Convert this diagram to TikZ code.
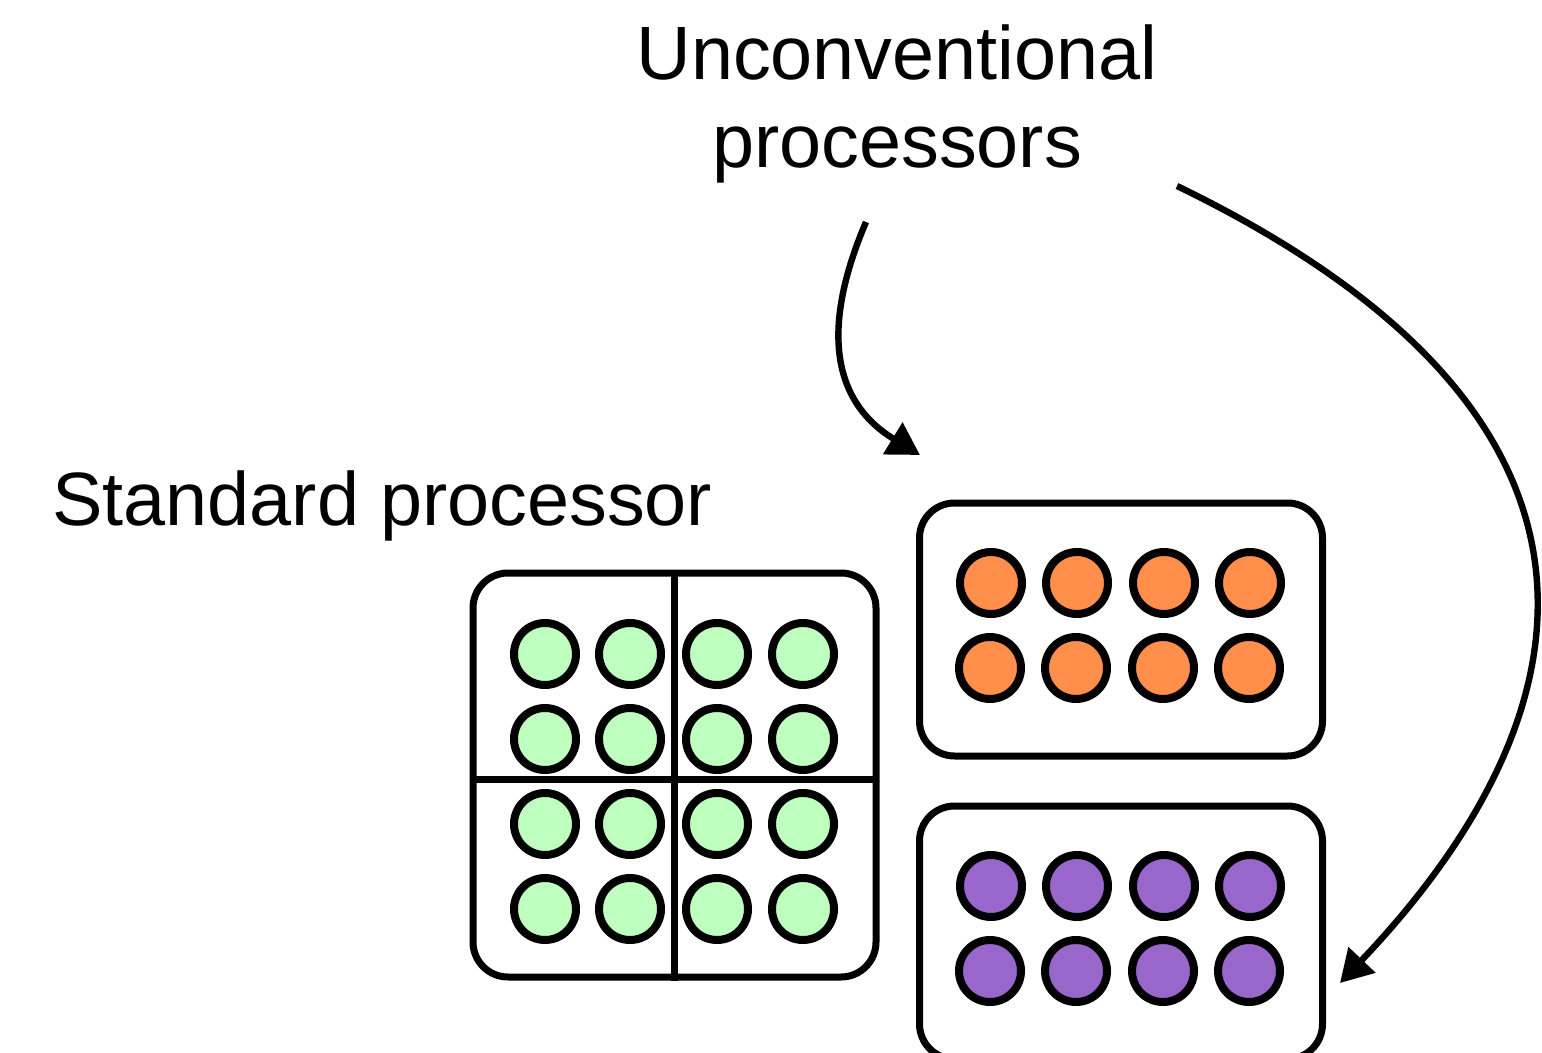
\documentclass[tikz,border=0pt]{standalone}
\usepackage{fontspec}
\setmainfont{Liberation Sans}
\usetikzlibrary{arrows.meta}
\definecolor{coregreen}{HTML}{BEFFC0}
\definecolor{coreorange}{HTML}{FF8F4A}
\definecolor{corepurple}{HTML}{9966CC}
\tikzset{
  chip/.style={draw=black, line width=3.5pt, rounded corners=17.5pt, fill=white},
  divider/.style={line width=3.5pt},
  core/.style={circle, draw=black, line width=4pt, minimum size=31pt, inner sep=0pt},
  label/.style={font=\fontsize{37.8}{44}\selectfont, inner sep=0pt},
  bigarrow/.style={line width=3.2pt, -{Triangle[length=16pt,width=18pt]}},
}
\begin{document}
\begin{tikzpicture}[x=0.5pt, y=-0.5pt]
  \useasboundingbox (0,0) rectangle (1542,1053);
  \clip (0,0) rectangle (1542,1053);

  % labels
  \node[label, anchor=base west] (stdlabel) at (52,525) {Standard processor};
  \node[label, anchor=base, align=center] (unclabel) at (897,168) {Unconventional\\processors};

  % standard processor: four blocks of four cores
  \node[chip, minimum width=201.5pt, minimum height=202pt] (std) at (674.5,775) {};
  \coordinate (hl) at (473,779);
  \coordinate (hr) at (876,779);
  \draw[divider] (std.north) -- (std.south);
  \draw[divider] (hl) -- (hr);
  \foreach \cx [count=\i] in {545,630,717,803}
    \foreach \cy [count=\j] in {654,739,824,909}
      \node[core, fill=coregreen] (g\i\j) at (\cx,\cy) {};

  % unconventional processors
  \node[chip, minimum width=201.5pt, minimum height=126.5pt] (orange) at (1121,629.5) {};
  \node[chip, minimum width=201.5pt, minimum height=126.5pt] (purple) at (1121,932.5) {};
  \foreach \cx [count=\i] in {991,1077,1164,1250} {
    \node[core, fill=coreorange] (o\i1) at (\cx,583) {};
    \node[core, fill=coreorange] (o\i2) at (\cx-1,668) {};
    \node[core, fill=corepurple] (p\i1) at (\cx,886) {};
    \node[core, fill=corepurple] (p\i2) at (\cx-1,971) {};
  }

  % arrows
  \coordinate (a1s) at (866,222);
  \coordinate (a1e) at (920,455);
  \coordinate (a2s) at (1177,186);
  \coordinate (a2e) at (1340,983);
  \draw[bigarrow] (a1s) .. controls (822,325) and (830,400) .. (a1e);
  \draw[bigarrow] (a2s) .. controls (1660,420) and (1590,720) .. (a2e);
\end{tikzpicture}
\end{document}
